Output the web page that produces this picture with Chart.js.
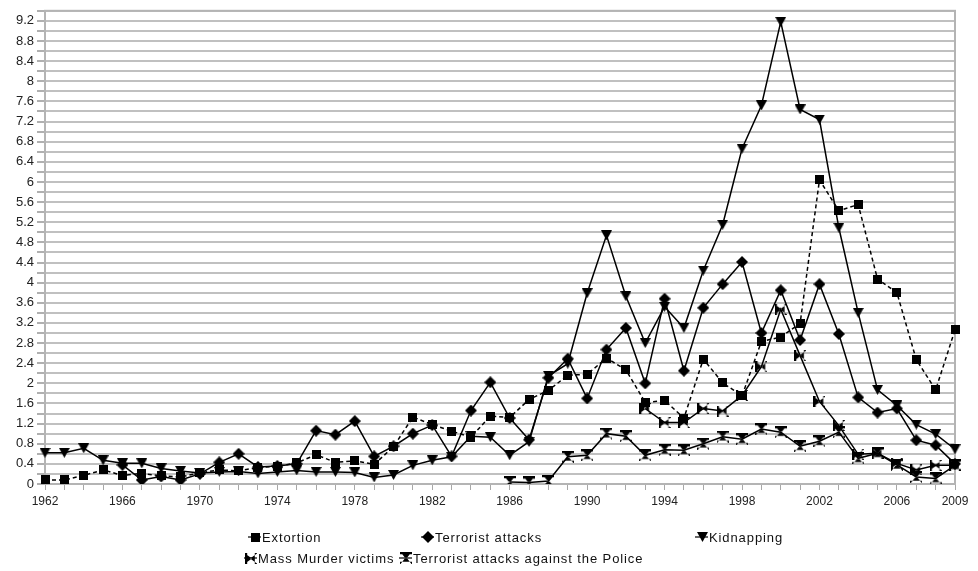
<!DOCTYPE html>
<html><head><meta charset="utf-8">
<script src="https://cdn.jsdelivr.net/npm/chart.js@4/dist/chart.umd.min.js"></script>
<style>html,body{margin:0;padding:0;background:#fff;}canvas{display:block}</style>
</head><body>
<canvas id="c" width="978" height="571"></canvas>
<script>
const years = ['1962','1963','1964','1965','1966','1967','1968','1969','1970','1971','1972','1973','1974','1975','1976','1977','1978','1979','1980','1981','1982','1983','1984','1985','1986','1987','1988','1989','1990','1991','1992','1993','1994','1995','1996','1997','1998','1999','2000','2001','2002','2003','2004','2005','2006','2007','2008','2009'];
const shownYears = ['1962','1966','1970','1974','1978','1982','1986','1990','1994','1998','2002','2006','2009'];
const seriesNames = ['Extortion','Terrorist attacks','Kidnapping','Mass Murder victims','Terrorist attacks against the Police'];

const extortion = [0.08,0.08,0.17,0.28,0.17,0.21,0.16,0.14,0.22,0.28,0.26,0.33,0.35,0.42,0.58,0.43,0.46,0.39,0.74,1.33,1.18,1.05,0.93,1.35,1.32,1.68,1.86,2.16,2.18,2.50,2.27,1.62,1.66,1.31,2.48,2.01,1.75,2.83,2.92,3.19,6.04,5.43,5.55,4.07,3.80,2.47,1.87,3.06];
const terrorist = [null,null,null,null,0.38,0.08,0.15,0.08,0.20,0.43,0.60,0.34,0.36,0.40,1.06,0.98,1.25,0.55,0.75,1.00,1.17,0.55,1.46,2.02,1.31,0.88,2.11,2.49,1.70,2.67,3.10,2.00,3.68,2.25,3.50,3.97,4.41,3.00,3.85,2.86,3.97,2.98,1.72,1.42,1.50,0.87,0.77,0.40];
const kidnapping = [0.62,0.62,0.71,0.47,0.41,0.41,0.31,0.26,0.22,0.24,0.25,0.21,0.24,0.27,0.24,0.24,0.23,0.13,0.18,0.37,0.47,0.54,0.95,0.93,0.57,0.84,2.15,2.39,3.79,4.94,3.73,2.80,3.52,3.10,4.24,5.15,6.66,7.52,9.18,7.44,7.24,5.09,3.40,1.87,1.56,1.18,0.99,0.69];
const massMurder = [null,null,null,null,null,null,null,null,null,null,null,null,null,null,null,null,null,null,null,null,null,null,null,null,null,null,null,null,null,null,null,1.50,1.22,1.22,1.50,1.45,1.76,2.33,3.47,2.55,1.64,1.16,0.59,0.61,0.41,0.28,0.37,0.37];
const police = [null,null,null,null,null,null,null,null,null,null,null,null,null,null,null,null,null,null,null,null,null,null,null,null,0.04,0.03,0.06,0.54,0.57,1.00,0.95,0.57,0.68,0.67,0.80,0.94,0.89,1.09,1.03,0.75,0.85,1.03,0.51,0.61,0.38,0.14,0.11,0.37];

function marker(kind){
  const c = document.createElement('canvas');
  let w=9,h=9;
  if(kind==='square'){w=9;h=9;}
  if(kind==='diamond'){w=12;h=12;}
  if(kind==='tri'){w=11;h=10;}
  if(kind==='bowtie'){w=12;h=11;}
  if(kind==='hour'){w=12;h=12;}
  c.width=w;c.height=h;
  const g=c.getContext('2d');
  g.fillStyle='#000';
  g.beginPath();
  if(kind==='square'){g.rect(0,0,w,h);}
  else if(kind==='diamond'){g.moveTo(w/2,0);g.lineTo(w,h/2);g.lineTo(w/2,h);g.lineTo(0,h/2);g.closePath();}
  else if(kind==='tri'){g.moveTo(0,0);g.lineTo(w,0);g.lineTo(w/2,h);g.closePath();}
  else if(kind==='bowtie'){
    g.moveTo(0,0.5);g.lineTo(w/2+1,h/2);g.lineTo(0,h-0.5);g.closePath();
    g.moveTo(w,0.5);g.lineTo(w/2-1,h/2);g.lineTo(w,h-0.5);g.closePath();
    g.rect(0,0,2.2,h);g.rect(w-2.2,0,2.2,h);
  }
  else if(kind==='hour'){
    g.moveTo(0.5,0);g.lineTo(w-0.5,0);g.lineTo(w/2,h/2+1);g.closePath();
    g.moveTo(0.5,h);g.lineTo(w-0.5,h);g.lineTo(w/2,h/2-1);g.closePath();
    g.rect(0,0,w,2.2);g.rect(0,h-2.2,w,2.2);
  }
  g.fill();
  return c;
}
const markers = [marker('square'),marker('diamond'),marker('tri'),marker('bowtie'),marker('hour')];

function ds(label,data,m,dash){
  return {label,data,borderColor:'#000',backgroundColor:'#000',borderWidth:1.5,
    borderDash:dash||[],pointStyle:m,pointRadius:5,pointHoverRadius:5,tension:0,spanGaps:false,fill:false};
}

const legendPlugin = {
  id:'gridLegend',
  afterDraw(chart, args, opts){
    const ctx = chart.ctx;
    ctx.save();
    ctx.font = '13px "Liberation Sans", Arial, sans-serif';
    ctx.fillStyle = '#111';
    ctx.textBaseline = 'middle';
    try{ ctx.letterSpacing = '0.9px'; }catch(e){}
    opts.items.forEach(it=>{
      const d = chart.data.datasets[it.i];
      ctx.strokeStyle='#000';ctx.lineWidth=1.2;
      ctx.beginPath();ctx.moveTo(it.x-7,it.y);ctx.lineTo(it.x+6,it.y);ctx.stroke();
      const m = markers[it.i];
      ctx.drawImage(m, Math.round(it.x-m.width/2), Math.round(it.y-m.height/2));
      ctx.fillText(d.label, it.x+7, it.y+1);
    });
    ctx.restore();
  }
};
const framePlugin = {
  id:'frame',
  beforeDatasetsDraw(chart){
    const a = chart.chartArea, ctx = chart.ctx;
    ctx.save();
    ctx.strokeStyle='#b4b4b4';ctx.lineWidth=2;
    ctx.strokeRect(a.left,a.top,a.right-a.left,a.bottom-a.top);
    ctx.restore();
  }
};

new Chart(document.getElementById('c'),{
  type:'line',
  data:{labels:years,datasets:[
    ds(seriesNames[0],extortion,markers[0],[4,3]),
    ds(seriesNames[1],terrorist,markers[1]),
    ds(seriesNames[2],kidnapping,markers[2]),
    ds(seriesNames[3],massMurder,markers[3]),
    ds(seriesNames[4],police,markers[4])
  ]},
  options:{
    responsive:false,animation:false,devicePixelRatio:1,
    layout:{padding:{left:0,right:23,top:6,bottom:57}},
    plugins:{legend:{display:false},tooltip:{enabled:false},
      gridLegend:{items:[
        {i:0,x:255,y:537},{i:1,x:428,y:537},{i:2,x:702,y:537},
        {i:3,x:251,y:558},{i:4,x:406,y:558}
      ]}},
    scales:{
      x:{type:'category',offset:false,
        grid:{drawOnChartArea:false,drawTicks:true,tickLength:6,color:'#a8a8a8',lineWidth:1},
        border:{color:'#b4b4b4',width:2},
        ticks:{autoSkip:false,maxRotation:0,minRotation:0,padding:4,color:'#222',
          font:{family:'"Liberation Sans", Arial, sans-serif',size:12},
          callback(v){const l=this.getLabelForValue(v);return shownYears.includes(l)?l:'';}},
        afterFit(s){s.height=30;}
      },
      y:{min:0,max:9.4,
        grid:{color:'#c0c0c0',lineWidth:2,tickLength:8,tickColor:'#b0b0b0'},
        border:{color:'#b4b4b4',width:2},
        ticks:{stepSize:0.2,autoSkip:false,padding:3,color:'#222',
          font:{family:'"Liberation Sans", Arial, sans-serif',size:13},
          callback(v){const r=Math.round(v*10);return (r%4===0)?String(r/10):'';}},
        afterFit(s){s.width=45;}
      }
    }
  },
  plugins:[legendPlugin,framePlugin]
});
</script>
</body></html>
